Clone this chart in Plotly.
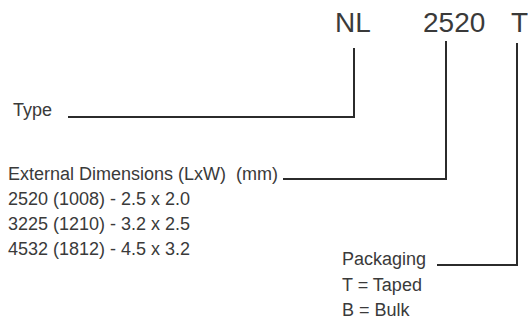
import plotly.graph_objects as go

# ---- content ----
code_parts = ["NL", "2520", "T"]
code_x = [353, 454, 519]          # centre of each code part
type_label = ["Type"]
dims_label = ["External Dimensions (LxW)&nbsp; (mm)",
              "2520 (1008) - 2.5 x 2.0",
              "3225 (1210) - 3.2 x 2.5",
              "4532 (1812) - 4.5 x 3.2"]
pack_label = ["Packaging", "T = Taped", "B = Bulk"]

# connector paths (x list, y list) in pixel space
conn_type = ([68, 354, 354], [117, 117, 48])
conn_dims = ([283, 446, 446], [179, 179, 41])
conn_pack = ([437, 517, 517], [265, 265, 43])

W, H = 528, 319
TXT = "#3a3a3a"
LINE = "#2b2b2b"
SMALL_FONT = "Liberation Sans, Arial, Helvetica, sans-serif"
BIG_FONT = "Liberation Sans, Arial, Helvetica, sans-serif"
SMALL = 18

fig = go.Figure()
for xs, ys in (conn_type, conn_dims, conn_pack):
    fig.add_trace(go.Scatter(x=xs, y=ys, mode="lines",
                             line=dict(color=LINE, width=2),
                             hoverinfo="skip", showlegend=False))

ann = []
for t, x in zip(code_parts, code_x):
    ann.append(dict(x=x, y=22, text=t, showarrow=False, xanchor="center",
                    yanchor="middle", font=dict(family=BIG_FONT, size=28, color=TXT)))

ann.append(dict(x=12, y=110, text=type_label[0], showarrow=False, xanchor="left",
                yanchor="middle", font=dict(family=SMALL_FONT, size=SMALL, color=TXT)))

for i, t in enumerate(dims_label):
    ann.append(dict(x=7, y=174 + 25 * i, text=t, showarrow=False, xanchor="left",
                    yanchor="middle", font=dict(family=SMALL_FONT, size=SMALL, color=TXT)))

for i, t in enumerate(pack_label):
    ann.append(dict(x=341, y=259 + 25.5 * i, text=t, showarrow=False, xanchor="left",
                    yanchor="middle", font=dict(family=SMALL_FONT, size=SMALL, color=TXT)))

for a in ann:
    a["xref"] = "x"
    a["yref"] = "y"
    a["borderpad"] = 0

fig.update_layout(
    width=W, height=H,
    margin=dict(l=0, r=0, t=0, b=0),
    paper_bgcolor="white", plot_bgcolor="white",
    xaxis=dict(range=[0, W], visible=False, fixedrange=True),
    yaxis=dict(range=[H, 0], visible=False, fixedrange=True),
    annotations=ann,
    showlegend=False,
)
fig.write_html("out.html", config={"displayModeBar": False},
               post_script="document.body.style.margin='0';document.body.style.overflow='hidden';")
